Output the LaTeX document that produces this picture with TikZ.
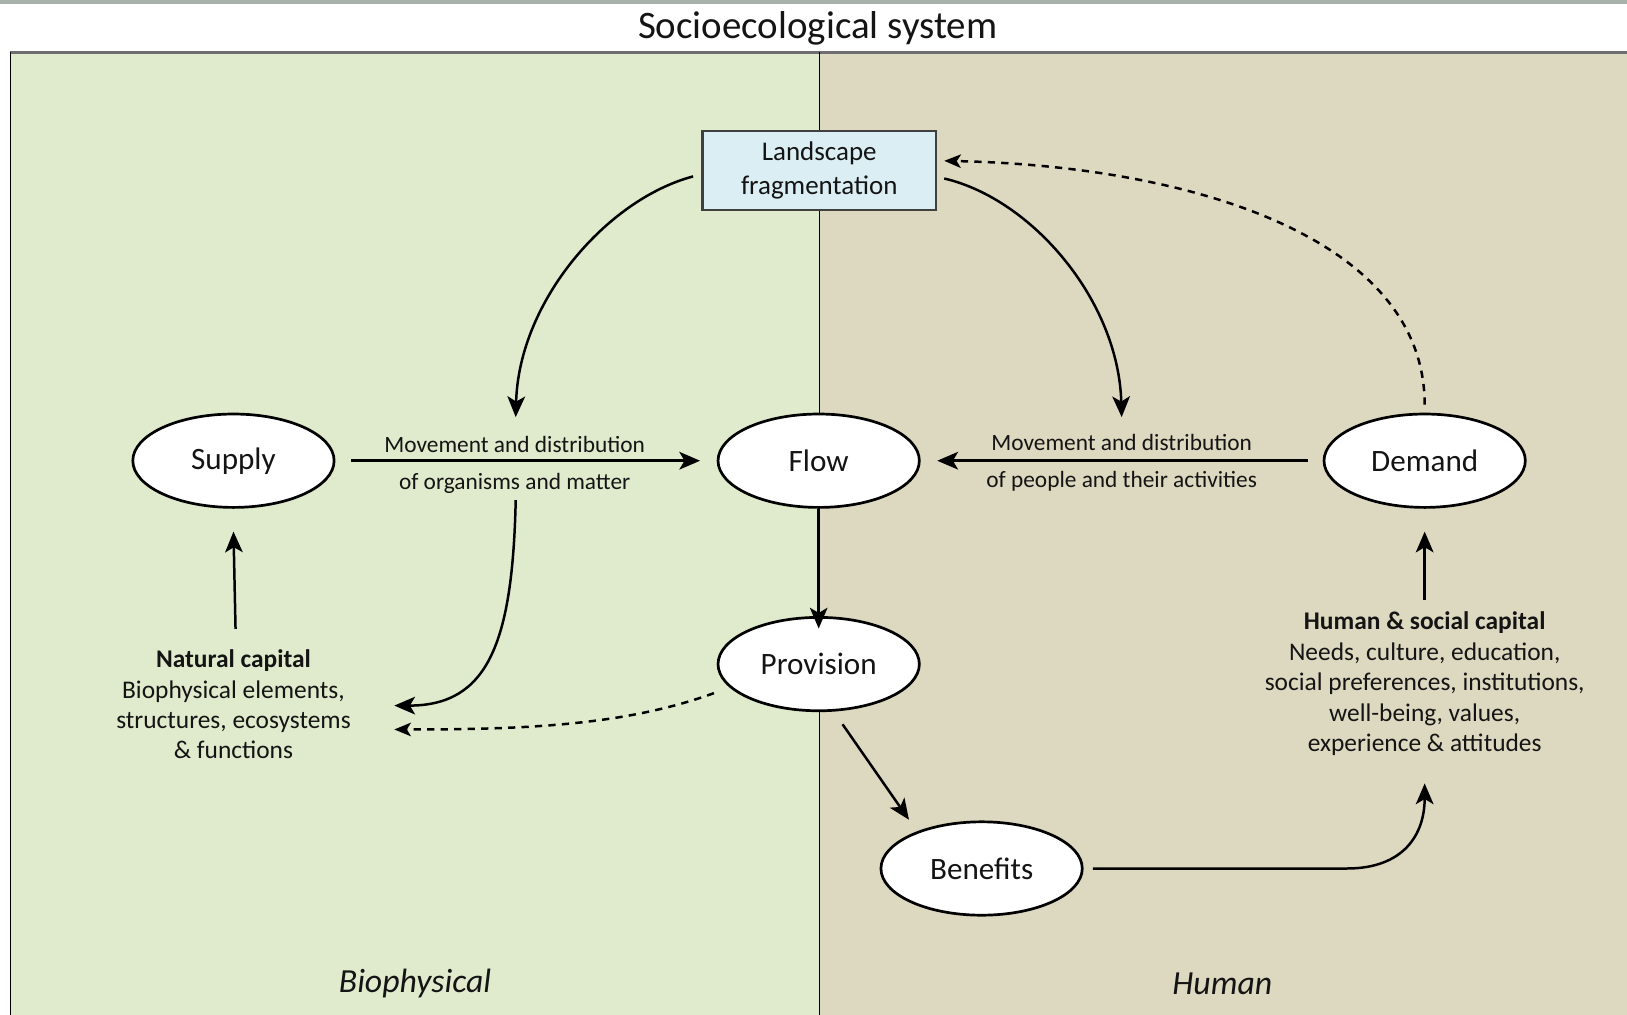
\documentclass[tikz,border=0pt]{standalone}
\usepackage{fontspec}
\setmainfont{Carlito}
\usetikzlibrary{shapes.geometric,arrows.meta}
\definecolor{bioGreen}{HTML}{DFEBCC}
\definecolor{humTan}{HTML}{DDD8C0}
\definecolor{landBlue}{HTML}{DAEEF3}
\definecolor{topBar}{HTML}{A7B2AC}
\definecolor{frameGray}{HTML}{6E6E6E}
\definecolor{inkDark}{HTML}{141414}
\begin{document}
\begin{tikzpicture}[x=1pt,y=-1pt,
  stage/.style={ellipse,draw=black,line width=2.6pt,fill=white,
    minimum width=194pt,minimum height=90pt,inner sep=0pt,
    font=\fontsize{30}{36}\selectfont,text=inkDark},
  flowlabel/.style={font=\fontsize{22.5}{27}\selectfont,text=inkDark},
  capital/.style={font=\fontsize{24.5}{29.3}\selectfont,text=inkDark,align=center},
  panelname/.style={font=\itshape\fontsize{32.5}{36}\selectfont,text=inkDark},
  conn/.style={line width=2.4pt,-{Stealth[length=20pt,width=17pt,inset=5pt]}},
  dashconn/.style={line width=2.4pt,dash pattern=on 7pt off 6pt,
    -{Stealth[length=16pt,width=13pt,inset=4pt]}}]

% canvas, header bar and the two panels
\useasboundingbox (0,0) rectangle (1568,978);
\fill[white] (0,0) rectangle (1568,978);
\fill[topBar] (0,0) rectangle (1568,4);
\fill[bioGreen] (10,50) rectangle (790,978);
\fill[humTan] (790,50) rectangle (1568,978);
\draw[frameGray,line width=3pt] (10,51) -- (1568,51);
\draw[line width=1pt] (10,50) -- (10,978);
\draw[line width=1pt] (790,50) -- (790,978);

\node[font=\fontsize{37.5}{42}\selectfont,text=inkDark] (title) at (788,27) {Socioecological system};

% main stages
\node[draw=black!75,line width=2pt,fill=landBlue,minimum width=225pt,minimum height=76pt,
  align=center,font=\fontsize{26}{33}\selectfont,text=inkDark] (land) at (789.5,164) {Landscape\\fragmentation};
\node[stage] (supply) at (225,444) {Supply};
\node[stage] (flow) at (789,444) {Flow};
\node[stage] (demand) at (1373,444) {Demand};
\node[stage] (provision) at (789,640) {Provision};
\node[stage] (benefits) at (946,837) {Benefits};

% labels of the two movement arrows
\node[flowlabel] (orgA) at (496,428) {Movement and distribution};
\node[flowlabel] (orgB) at (496,466) {of organisms and matter};
\node[flowlabel] (pplA) at (1081,426) {Movement and distribution};
\node[flowlabel] (pplB) at (1081,464) {of people and their activities};

% capitals
\node[capital] (natcap) at (225,679) {\textbf{Natural capital}\\Biophysical elements,\\structures, ecosystems\\\& functions};
\node[capital] (humcap) at (1373,659) {\textbf{Human \& social capital}\\Needs, culture, education,\\social preferences, institutions,\\well-being, values,\\experience \& attitudes};

% panel names
\node[panelname] (bio) at (400,948) {Biophysical};
\node[panelname] (hum) at (1178,948) {Human};

% free ends of the connectors
\coordinate (landL) at (668,170);
\coordinate (landR) at (910,172);
\coordinate (landIn) at (910,155);
\coordinate (orgTop) at (497,402);
\coordinate (pplTop) at (1081,402);
\coordinate (orgBot) at (497,482);
\coordinate (natIn) at (380,680);
\coordinate (natDash) at (380,703);
\coordinate (provOut) at (688,668);
\coordinate (humIn) at (1373,755);
\coordinate (humOut) at (1373,578);
\coordinate (natOut) at (227,606);
\coordinate (demTop) at (1373,390);
\coordinate (bendStart) at (1298,837);

% connectors
\draw[conn] (supply.east) ++(15,0) -- ([xshift=-16pt]flow.west);
\draw[conn] (demand.west) ++(-14,0) -- ([xshift=16pt]flow.east);
\draw[conn] (flow.south) -- ([yshift=-12pt]provision.north);
\draw[conn] (landL) .. controls (585,192) and (500,290) .. (orgTop);
\draw[conn] (landR) .. controls (995,192) and (1078,290) .. (pplTop);
\draw[dashconn] (demTop) .. controls (1373,230) and (1150,160) .. (landIn);
\draw[conn] (orgBot) .. controls (494,620) and (470,680) .. (natIn);
\draw[dashconn] (provOut) .. controls (600,700) and (500,703) .. (natDash);
\draw[conn] (natOut) -- ([yshift=-22pt]supply.south);
\draw[conn] (humOut) -- ([yshift=-22pt]demand.south);
\draw[conn] (812,698) -- (876,790);
\draw[conn] ([xshift=9pt]benefits.east) -- (bendStart) .. controls (1352,837) and (1373,805) .. (humIn);
\end{tikzpicture}
\end{document}
